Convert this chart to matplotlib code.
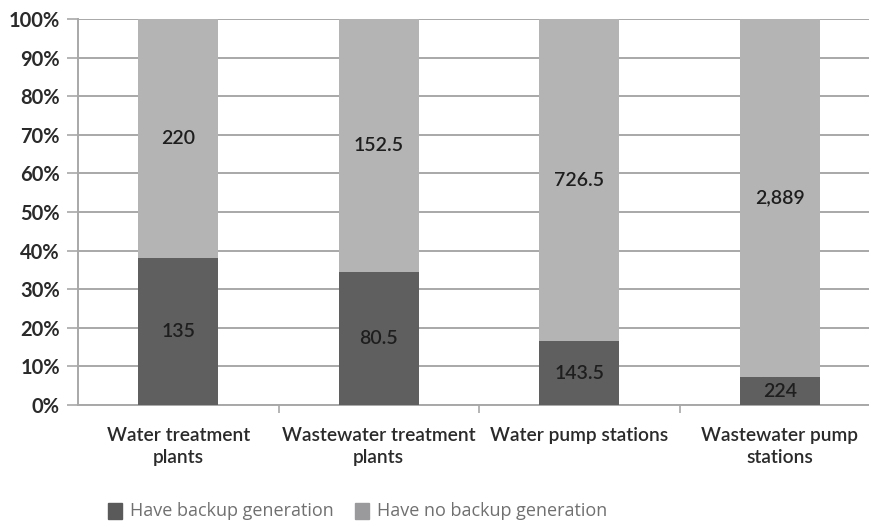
import matplotlib.pyplot as plt
from matplotlib.patches import Rectangle
import numpy as np

categories = ['Water treatment\nplants', 'Wastewater treatment\nplants',
              'Water pump stations', 'Wastewater pump\nstations']
have_backup = [135, 80.5, 143.5, 224]
no_backup = [220, 152.5, 726.5, 2889]
backup_labels = ['135', '80.5', '143.5', '224']
no_backup_labels = ['220', '152.5', '726.5', '2,889']
series_names = ['Have backup generation', 'Have no backup generation']

plt.rcParams['font.family'] = ['Lato', 'DejaVu Sans']

have = np.array(have_backup)
no = np.array(no_backup)
tot = have + no
p_have = have / tot * 100
p_no = no / tot * 100

W, H = 870, 522
fig = plt.figure(figsize=(8.7, 5.22), dpi=100)
ax = fig.add_axes([78 / W, 1 - 405 / H, 802 / W, 386 / H])

x = np.arange(len(categories))
dark = '#5f5f5f'
light = '#b4b4b4'
ax.bar(x, p_have, width=0.4, color=dark, zorder=3)
ax.bar(x, p_no, width=0.4, bottom=p_have, color=light, zorder=3)

for i in range(len(x)):
    ax.text(x[i], p_have[i] / 2, backup_labels[i], ha='center', va='center',
            fontsize=14, fontweight='semibold', color='#1e1e1e', zorder=4)
    ax.text(x[i], p_have[i] + p_no[i] / 2, no_backup_labels[i], ha='center',
            va='center', fontsize=14, fontweight='semibold', color='#1e1e1e',
            zorder=4)

ax.set_xlim(-0.5, 3.5)
ax.set_ylim(0, 100)
ax.set_yticks(np.arange(0, 101, 10))
ax.set_yticklabels([f'{v}%' for v in range(0, 101, 10)], fontsize=14.5,
                   fontweight='bold', color='#2a2a2a')
ax.yaxis.grid(True, color='#a8a8a8', linewidth=1.4, zorder=0)
ax.tick_params(axis='y', length=8, width=1.2, color='#a8a8a8', pad=5)

ax.set_xticks(x)
ax.set_xticklabels(categories, fontsize=13.8, fontweight='semibold',
                   color='#2a2a2a', linespacing=1.35)
ax.set_xticks([0.5, 1.5, 2.5], minor=True)
ax.tick_params(axis='x', which='major', length=0, pad=16)
ax.tick_params(axis='x', which='minor', length=6, width=1.2, color='#a8a8a8')

for s in ['top', 'right']:
    ax.spines[s].set_visible(False)
for s in ['left', 'bottom']:
    ax.spines[s].set_color('#a8a8a8')
    ax.spines[s].set_linewidth(1.4)

# legend: squares and text placed below the chart
legend_colors = ['#5a5a5a', '#9a9a9c']
legend_x = [108, 355]
for name, c, lx in zip(series_names, legend_colors, legend_x):
    fig.patches.append(Rectangle((lx / W, 1 - 519 / H), 14 / W, 16 / H,
                                 transform=fig.transFigure, color=c))
    fig.text((lx + 22) / W, 1 - 511 / H, name, ha='left', va='center',
             fontsize=13, color='#707070', family=['Open Sans', 'DejaVu Sans'])

fig.savefig('out.png', dpi=100)
